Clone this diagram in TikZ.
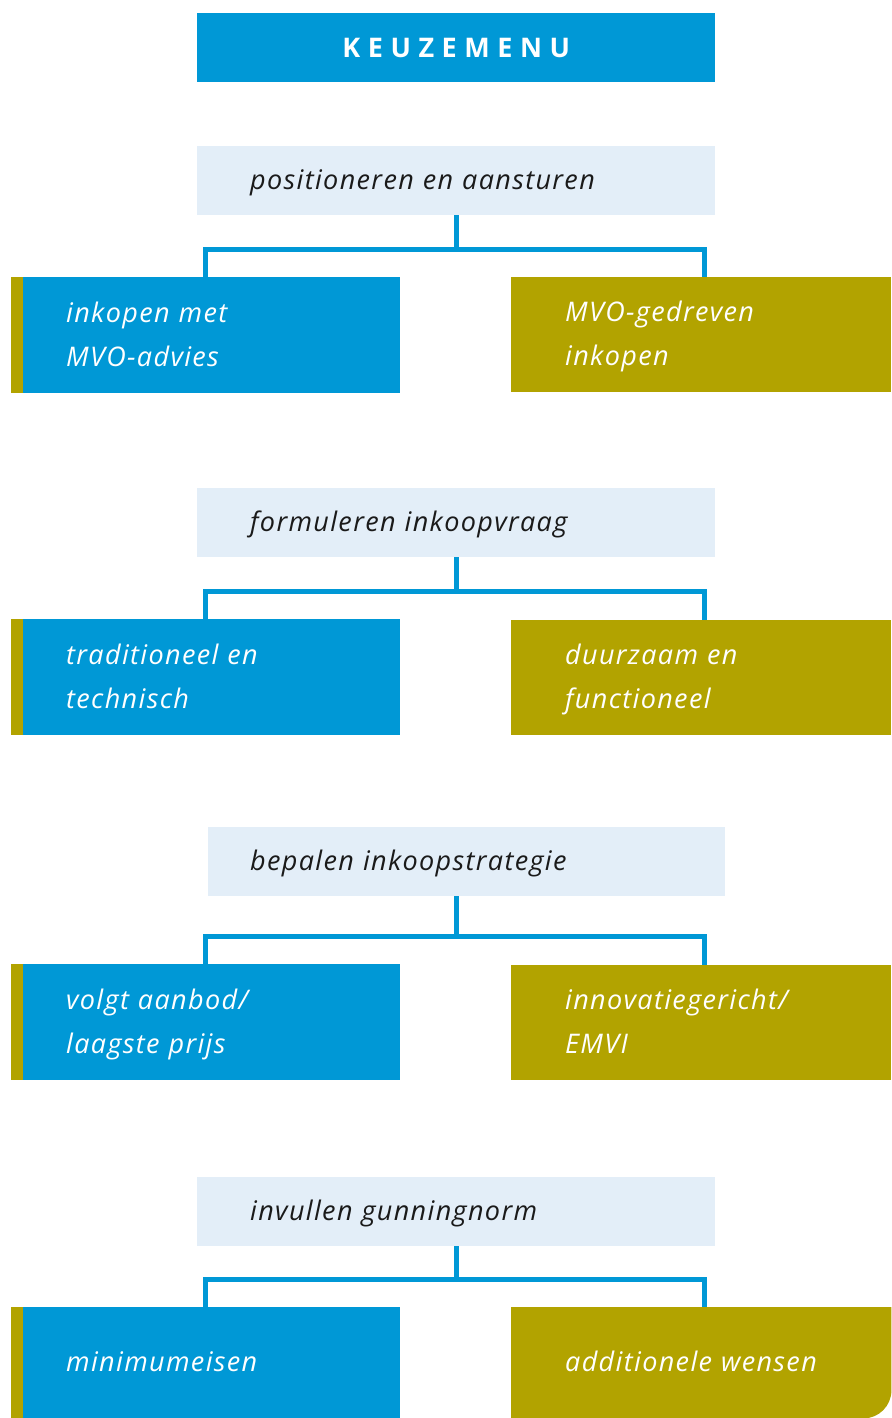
\documentclass[tikz,border=0pt]{standalone}
\usepackage{fontspec}
\setmainfont{Open Sans}
\newfontfamily\menufont[LetterSpace=5]{Open Sans}
\newfontfamily\titlefont[LetterSpace=28]{Open Sans}
\usetikzlibrary{positioning,backgrounds}
\definecolor{menublue}{HTML}{0098D6}
\definecolor{menuolive}{HTML}{B2A300}
\definecolor{steplight}{HTML}{E3EEF8}
\definecolor{steptext}{HTML}{1A1A1A}
\tikzset{
  title/.style={fill=menublue, text=white, anchor=north west, minimum width=518pt, minimum height=69pt, inner sep=0pt, font=\titlefont\bfseries\fontsize{27}{30}\selectfont},
  textrow/.style={execute at begin node=\strut, execute at end node=\strut},
  stepbox/.style={textrow, fill=steplight, text=steptext, anchor=north west, text width=412pt, inner xsep=53pt, inner ysep=0pt, minimum height=69pt, align=left, font=\menufont\itshape\fontsize{27}{44}\selectfont},
  choice/.style={textrow, text=white, anchor=north west, inner xsep=55pt, inner ysep=0pt, align=left, font=\menufont\itshape\fontsize{27}{44}\selectfont},
  leftbox/.style={choice, fill=menublue, text width=279pt, minimum height=116pt},
  rightbox/.style={choice, fill=menuolive, text width=272pt, inner xsep=54pt, minimum height=115pt},
  conn/.style={draw=menublue, line width=5pt},
  stripe/.style={fill=menuolive},
}

\begin{document}
\begin{tikzpicture}[x=1pt,y=-1pt]
  \useasboundingbox (0,0) rectangle (891,1418);
  \node[title] (menu) at (197,13) {KEUZEMENU};

  % positioneren
  \node[stepbox] (h1) at (197,146) {positioneren en aansturen};
  \node[leftbox] (l1) at (11,277) {inkopen met\\MVO-advies};
  \node[rightbox] (r1) at (511,277) {MVO-gedreven\\inkopen};
  \coordinate (j1) at (456,249);
  \fill[stripe] (l1.north west) rectangle ([xshift=12pt]l1.south west);
  \draw[conn] (j1 |- h1.south) -- (j1);
  \draw[conn] (l1.north) |- (j1) -| ([xshift=3pt]r1.north);

  % inkoopvraag
  \node[stepbox] (h2) at (197,488) {formuleren inkoopvraag};
  \node[leftbox] (l2) at (11,619) {traditioneel en\\technisch};
  \node[rightbox] (r2) at (511,620) {duurzaam en\\functioneel};
  \coordinate (j2) at (456,591);
  \fill[stripe] (l2.north west) rectangle ([xshift=12pt]l2.south west);
  \draw[conn] (j2 |- h2.south) -- (j2);
  \draw[conn] (l2.north) |- (j2) -| ([xshift=3pt]r2.north);

  % inkoopstrategie
  \node[stepbox, inner xsep=42pt, text width=433pt] (h3) at (208,827) {bepalen inkoopstrategie};
  \node[leftbox] (l3) at (11,964) {volgt aanbod/\\laagste prijs};
  \node[rightbox] (r3) at (511,965) {innovatiegericht/\\EMVI};
  \coordinate (j3) at (456,936);
  \fill[stripe] (l3.north west) rectangle ([xshift=12pt]l3.south west);
  \draw[conn] (j3 |- h3.south) -- (j3);
  \draw[conn] (l3.north) |- (j3) -| ([xshift=3pt]r3.north);

  % gunningnorm
  \node[stepbox] (h4) at (197,1177) {invullen gunningnorm};
  \node[leftbox, minimum height=111pt] (l4) at (11,1307) {minimumeisen};
  \node[choice, text width=272pt, inner xsep=54pt, minimum height=111pt] (r4) at (511,1307) {additionele wensen};
  \coordinate (j4) at (456,1279);
  \begin{scope}[on background layer]
    \fill[menuolive] (r4.north west) -- (r4.north east) -- ([yshift=28pt]r4.south east)
      arc (0:-90:28pt) -- (r4.south west) -- cycle;
  \end{scope}
  \fill[stripe] (l4.north west) rectangle ([xshift=12pt]l4.south west);
  \draw[conn] (j4 |- h4.south) -- (j4);
  \draw[conn] (l4.north) |- (j4) -| ([xshift=3pt]r4.north);
\end{tikzpicture}
\end{document}
